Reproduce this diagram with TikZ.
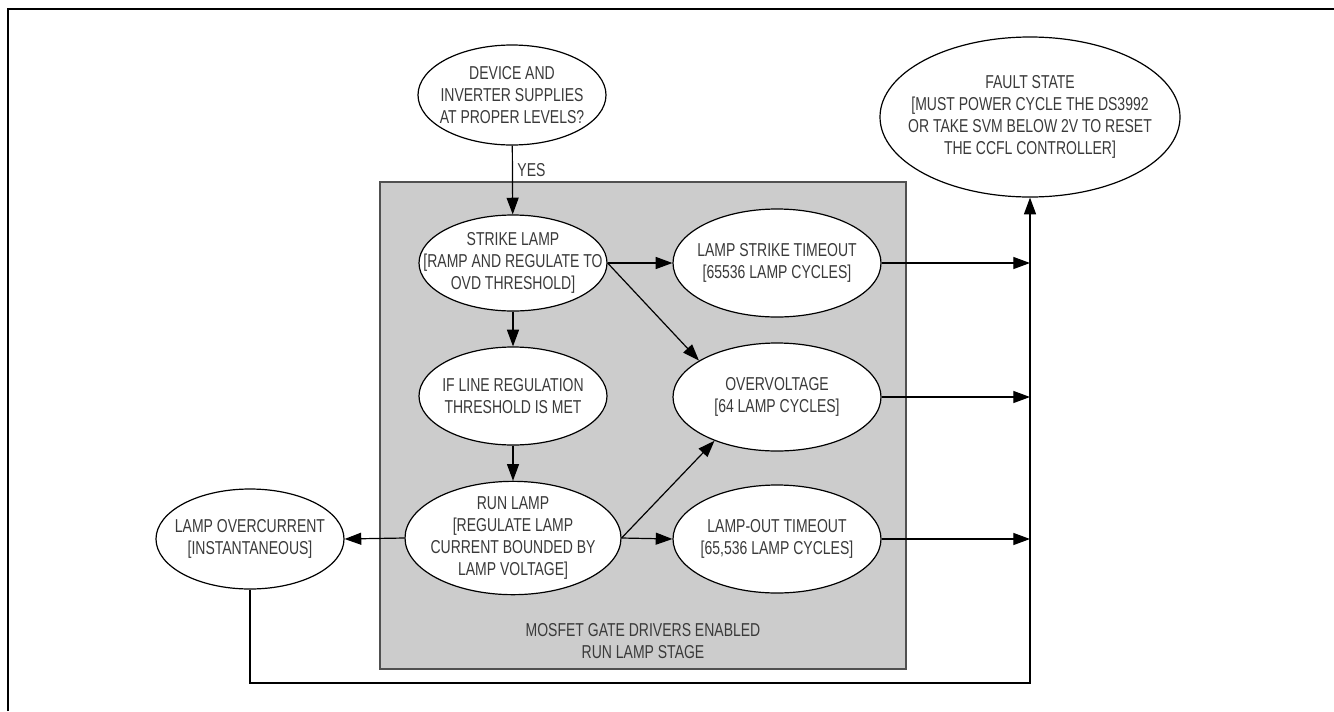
\documentclass[tikz,border=0pt]{standalone}
\usepackage{fontspec}
\setmainfont{Liberation Sans}[FakeStretch=0.75]
\usepackage{tikz}
\usetikzlibrary{shapes.geometric}
\usetikzlibrary{arrows.meta}
\usetikzlibrary{calc}
\definecolor{textgray}{HTML}{3A3A3A}
\definecolor{stagegray}{HTML}{CCCCCC}
\definecolor{edgegray}{HTML}{505050}
\tikzset{
	state/.style={ellipse,draw,fill=white,line width=0.9pt,inner xsep=-30pt,inner ysep=-20pt,align=center,text=textgray,font=\fontsize{14}{16.3}\selectfont},
	flow/.style={line width=0.9pt,-{Triangle[length=12.5pt,width=9pt]}}
}

\begin{document}
\begin{tikzpicture}[x=0.75pt,y=-0.75pt]
				\def\bus{1030};
				\def\low{683};
				\useasboundingbox (0,0) rectangle (1334,711);
				\draw[line width=2pt] (8,711) -- (8,9) -- (1334,9);
				\draw[fill=stagegray,draw=edgegray,line width=0.9pt] (380,182) rectangle (906,669);
				\node[state,minimum width=141pt,minimum height=75pt] (supply) at (512,95) {DEVICE AND\\INVERTER SUPPLIES\\AT PROPER LEVELS?};
				\node[state,minimum width=141pt,minimum height=72pt] (strike) at (513,263) {STRIKE LAMP\\{[}RAMP AND REGULATE TO\\OVD THRESHOLD{]}};
				\node[state,minimum width=141pt,minimum height=73.5pt] (linereg) at (513,396) {IF LINE REGULATION\\THRESHOLD IS MET};
				\node[state,minimum width=162pt,minimum height=85pt] (run) at (513,538) {RUN LAMP\\{[}REGULATE LAMP\\CURRENT BOUNDED BY\\LAMP VOLTAGE{]}};
				\node[state,minimum width=156pt,minimum height=81pt] (striketo) at (777,263) {LAMP STRIKE TIMEOUT\\{[}65536 LAMP CYCLES{]}};
				\node[state,minimum width=156pt,minimum height=81pt] (ovd) at (777,397) {OVERVOLTAGE\\{[}64 LAMP CYCLES{]}};
				\node[state,minimum width=156pt,minimum height=81pt] (lampout) at (777,539) {LAMP-OUT TIMEOUT\\{[}65,536 LAMP CYCLES{]}};
				\node[state,minimum width=141pt,minimum height=75pt] (overcur) at (250,539) {LAMP OVERCURRENT\\{[}INSTANTANEOUS{]}};
				\node[state,minimum width=225pt,minimum height=120pt] (fault) at (\bus,117) {FAULT STATE\\{[}MUST POWER CYCLE THE DS3992\\OR TAKE SVM BELOW 2V TO RESET\\THE CCFL CONTROLLER{]}};
				\node[align=center,text=textgray,font=\fontsize{14}{16.3}\selectfont] (stage) at (643,641) {MOSFET GATE DRIVERS ENABLED\\RUN LAMP STAGE};
				\coordinate (corner) at (\bus,\low);
				\draw[flow] (supply) -- node[right,text=textgray,font=\fontsize{14}{16.3}\selectfont,pos=0.35] {YES} (strike);
				\draw[flow] (strike) -- (linereg);
				\draw[flow] (linereg) -- (run);
				\draw[flow] (run.west) -- (overcur.east);
				\draw[flow] (strike.east) -- (striketo.west);
				\draw[flow] (strike.east) -- (ovd.155);
				\draw[flow] (run.east) -- (ovd.215);
				\draw[flow] (run.east) -- (lampout.west);
				\draw[flow] (striketo.east) -- (striketo.east -| corner);
				\draw[flow] (ovd.east) -- (ovd.east -| corner);
				\draw[flow] (lampout.east) -- (lampout.east -| corner);
				\draw[flow] (overcur.south) |- (corner) -- (fault.south);
			\end{tikzpicture}
\end{document}
